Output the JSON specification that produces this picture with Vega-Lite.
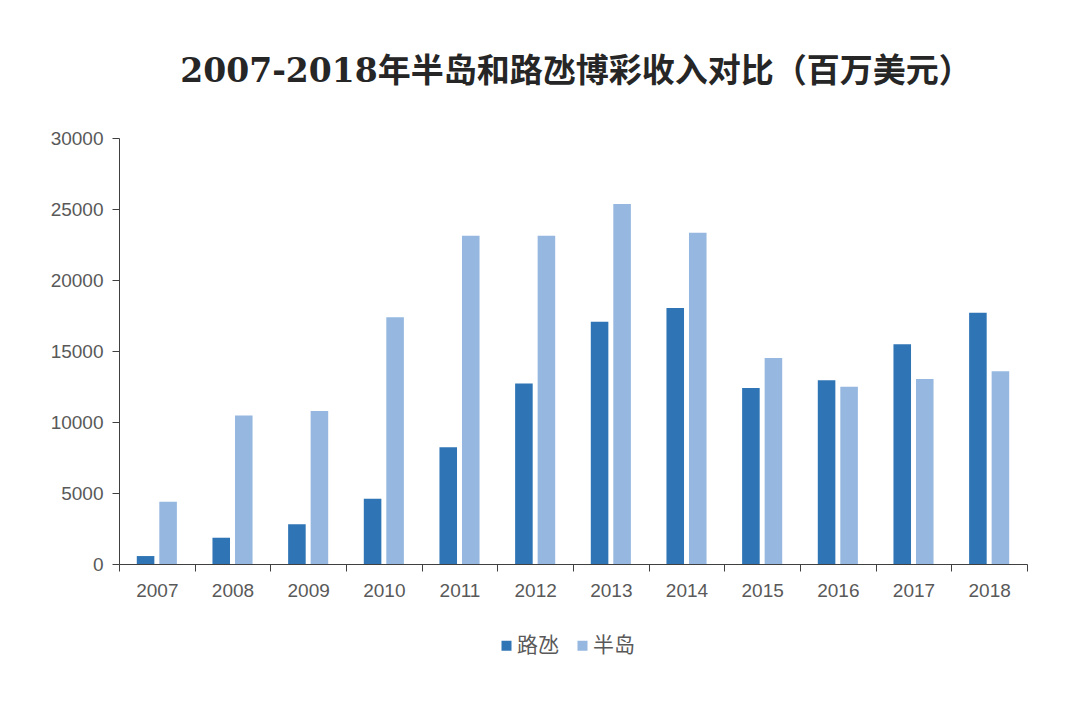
{
  "$schema": "https://vega.github.io/schema/vega-lite/v6.json",
  "width": 908,
  "height": 426,
  "autosize": {"type": "none"},
  "padding": {"left": 119, "top": 138, "right": 53, "bottom": 139},
  "background": "white",
  "title": {
    "text": "2007-2018年半岛和路氹博彩收入对比（百万美元）",
    "font": "DejaVu Serif, Noto Sans CJK SC",
    "fontSize": 33,
    "fontWeight": "bold",
    "color": "#262626",
    "anchor": "middle",
    "offset": 40,
    "dx": 3
  },
  "data": {
    "values": [
      {"year": "2007", "area": "路氹", "value": 560},
      {"year": "2007", "area": "半岛", "value": 4390},
      {"year": "2008", "area": "路氹", "value": 1850},
      {"year": "2008", "area": "半岛", "value": 10450},
      {"year": "2009", "area": "路氹", "value": 2800},
      {"year": "2009", "area": "半岛", "value": 10770},
      {"year": "2010", "area": "路氹", "value": 4600},
      {"year": "2010", "area": "半岛", "value": 17370},
      {"year": "2011", "area": "路氹", "value": 8220},
      {"year": "2011", "area": "半岛", "value": 23120},
      {"year": "2012", "area": "路氹", "value": 12720},
      {"year": "2012", "area": "半岛", "value": 23120},
      {"year": "2013", "area": "路氹", "value": 17060},
      {"year": "2013", "area": "半岛", "value": 25350},
      {"year": "2014", "area": "路氹", "value": 18030},
      {"year": "2014", "area": "半岛", "value": 23330},
      {"year": "2015", "area": "路氹", "value": 12390},
      {"year": "2015", "area": "半岛", "value": 14500},
      {"year": "2016", "area": "路氹", "value": 12940},
      {"year": "2016", "area": "半岛", "value": 12490},
      {"year": "2017", "area": "路氹", "value": 15470},
      {"year": "2017", "area": "半岛", "value": 13030},
      {"year": "2018", "area": "路氹", "value": 17700},
      {"year": "2018", "area": "半岛", "value": 13570}
    ]
  },
  "mark": {"type": "bar"},
  "encoding": {
    "x": {
      "field": "year",
      "type": "nominal",
      "scale": {"paddingInner": 0, "paddingOuter": 0},
      "axis": {
        "title": null,
        "labelAngle": 0,
        "tickBand": "extent",
        "domainColor": "#404040",
        "tickColor": "#404040",
        "tickSize": 7,
        "labelFont": "Liberation Sans",
        "labelFontSize": 19,
        "labelColor": "#595959",
        "labelPadding": 10
      }
    },
    "xOffset": {
      "field": "area",
      "type": "nominal",
      "sort": ["路氹", "半岛"],
      "scale": {"paddingInner": 0.22, "paddingOuter": 0.79}
    },
    "y": {
      "field": "value",
      "type": "quantitative",
      "scale": {"domain": [0, 30000], "nice": false},
      "axis": {
        "title": null,
        "values": [0, 5000, 10000, 15000, 20000, 25000, 30000],
        "format": "d",
        "grid": false,
        "domainColor": "#404040",
        "tickColor": "#404040",
        "tickSize": 7,
        "labelFont": "Liberation Sans",
        "labelFontSize": 19,
        "labelColor": "#595959",
        "labelPadding": 9
      }
    },
    "color": {
      "field": "area",
      "type": "nominal",
      "sort": ["路氹", "半岛"],
      "scale": {"domain": ["路氹", "半岛"], "range": ["#2F75B5", "#95B7E0"]},
      "legend": {
        "title": null,
        "orient": "none",
        "legendX": 377,
        "legendY": 497,
        "direction": "horizontal",
        "symbolType": "square",
        "symbolSize": 100,
        "symbolStrokeWidth": 0,
        "labelFont": "Noto Sans CJK SC",
        "labelFontSize": 21,
        "labelColor": "#595959",
        "labelOffset": 0,
        "columnPadding": 13
      }
    }
  },
  "config": {
    "view": {"stroke": null}
  }
}
